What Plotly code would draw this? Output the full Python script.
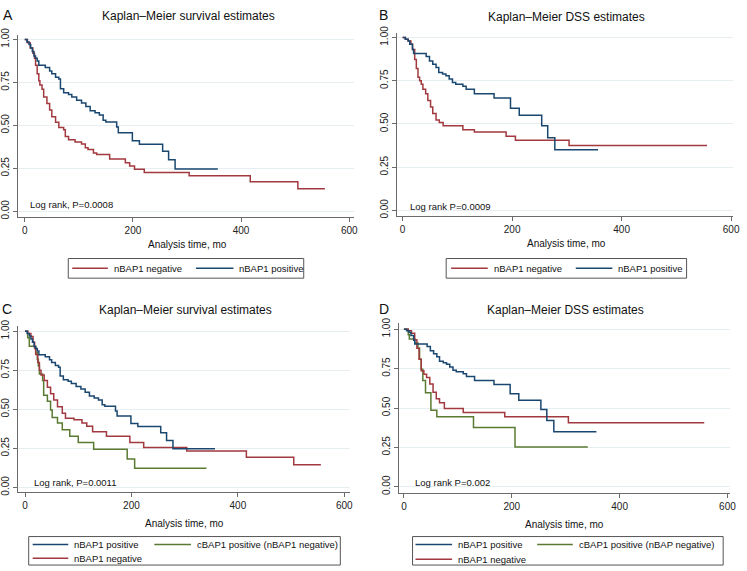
import plotly.graph_objects as go

W, H = 747, 571

# ---------------- data ----------------
# Overall survival, nBAP1 positive (panels A and C)
os_pos_t = [0, 4, 8, 11, 14, 17, 20, 23, 26, 38, 46, 50, 57, 63, 66, 72, 81, 87, 96, 105,
            113, 121, 130, 138, 145, 150, 170, 173, 199, 212, 255, 266, 278, 357]
os_pos_s = [1.00, 0.985, 0.97, 0.95, 0.93, 0.903, 0.89, 0.874, 0.85, 0.836, 0.817, 0.80, 0.78, 0.77,
            0.713, 0.69, 0.68, 0.665, 0.646, 0.63, 0.61, 0.585, 0.573, 0.56, 0.53, 0.52, 0.49, 0.457,
            0.41, 0.39, 0.35, 0.30, 0.247, 0.247]

# Overall survival, nBAP1 negative (panel A)
os_neg_t = [0, 5, 10, 15, 18, 20, 23, 26, 28, 32, 35, 41, 46, 50, 57, 63, 72, 75, 81, 93, 105,
            112, 117, 127, 133, 157, 186, 194, 203, 221, 304, 417, 505, 555]
os_neg_s = [1.0, 0.98, 0.95, 0.92, 0.89, 0.85, 0.80, 0.76, 0.735, 0.71, 0.665, 0.627, 0.59, 0.55,
            0.518, 0.488, 0.474, 0.436, 0.417, 0.404, 0.392, 0.37, 0.36, 0.34, 0.33, 0.305, 0.283,
            0.264, 0.245, 0.226, 0.207, 0.172, 0.132, 0.132]

# DSS, nBAP1 positive (panels B and D)
dss_pos_t = [0, 5, 10, 13, 18, 20, 43, 49, 55, 61, 66, 73, 79, 85, 91, 97, 110, 116, 131, 167,
             197, 213, 254, 265, 278, 357]
dss_pos_s = [1.0, 0.99, 0.98, 0.96, 0.93, 0.907, 0.89, 0.864, 0.845, 0.826, 0.797, 0.788, 0.778,
             0.76, 0.74, 0.73, 0.718, 0.70, 0.674, 0.65, 0.59, 0.55, 0.49, 0.42, 0.35, 0.35]

# DSS, nBAP1 negative (panel B)
dss_neg_t = [0, 5, 10, 15, 18, 22, 25, 28, 31, 34, 37, 42, 46, 51, 55, 61, 67, 74, 110, 131,
             189, 206, 304, 556]
dss_neg_s = [1.0, 0.99, 0.98, 0.96, 0.93, 0.873, 0.82, 0.77, 0.75, 0.73, 0.70, 0.674, 0.636,
             0.598, 0.56, 0.523, 0.508, 0.49, 0.466, 0.453, 0.428, 0.405, 0.375, 0.375]

# Overall survival, nBAP1 negative without cBAP1 positive (panel C)
os_neg2_t = [0, 5, 11, 15, 18, 20, 24, 27, 30, 36, 42, 48, 54, 61, 70, 76, 92, 107, 116, 127,
             153, 197, 223, 304, 416, 505, 556]
os_neg2_s = [1.0, 0.985, 0.967, 0.93, 0.89, 0.851, 0.80, 0.75, 0.72, 0.684, 0.642, 0.60, 0.559,
             0.517, 0.475, 0.443, 0.433, 0.412, 0.391, 0.356, 0.328, 0.287, 0.255, 0.234, 0.193,
             0.146, 0.146]

# Overall survival, cBAP1 positive (panel C)
os_cyt_t = [0, 5, 8, 20, 23, 25, 27, 33, 35, 42, 48, 51, 61, 70, 84, 100, 129, 192, 206, 341]
os_cyt_s = [1.0, 0.958, 0.904, 0.862, 0.82, 0.778, 0.726, 0.684, 0.59, 0.552, 0.496, 0.448,
            0.412, 0.37, 0.328, 0.287, 0.245, 0.182, 0.123, 0.123]

# DSS, nBAP1 negative without cBAP1 positive (panel D)
dss_neg2_t = [0, 8, 14, 20, 24, 28, 32, 37, 42, 48, 54, 60, 66, 75, 110, 187, 305, 557]
dss_neg2_s = [1.0, 0.99, 0.975, 0.933, 0.88, 0.81, 0.736, 0.715, 0.694, 0.653, 0.60, 0.559,
              0.534, 0.497, 0.472, 0.445, 0.407, 0.407]

# DSS, cBAP1 positive (panel D)
dss_cyt_t = [0, 8, 10, 20, 26, 29, 32, 35, 40, 50, 61, 129, 206, 341]
dss_cyt_s = [1.0, 0.965, 0.938, 0.913, 0.88, 0.81, 0.746, 0.674, 0.597, 0.486, 0.445, 0.376,
             0.252, 0.252]

x_ticks = [0, 200, 400, 600]
y_ticks = [0, 0.25, 0.5, 0.75, 1.0]
y_ticktext = ["0.00", "0.25", "0.50", "0.75", "1.00"]

panel_letters = ["A", "B", "C", "D"]
panel_titles = ["Kaplan\u2013Meier survival estimates", "Kaplan\u2013Meier DSS estimates",
                "Kaplan\u2013Meier survival estimates", "Kaplan\u2013Meier DSS estimates"]
logrank_text = ["Log rank, P=0.0008", "Log rank P=0.0009", "Log rank, P=0.0011", "Log rank P=0.002"]
x_title = "Analysis time, mo"

lab_pos = "nBAP1 positive"
lab_neg = "nBAP1 negative"
lab_cyt_c = "cBAP1 positive (nBAP1 negative)"
lab_cyt_d = "cBAP1 positive (nBAP negative)"

NAVY = "#1a476f"
MAROON = "#a2393e"
GREEN = "#5a7a32"
FONT = "Liberation Sans, Arial, sans-serif"

# ---------------- layout geometry (pixels) ----------------
P = [
    dict(dx=(17, 357), dy=(28, 214), x0=24, x600=352, y1=33, y0=208,
         letter=(7, 8), title=(190, 9), xt=(189, 242), lr=(5.5, 0.04)),
    dict(dx=(400, 740), dy=(26, 213), x0=406, x600=738, y1=31, y0=207,
         letter=(387, 8), title=(572, 10), xt=(572, 241), lr=(9, 0.023)),
    dict(dx=(17, 353), dy=(325, 494), x0=24.3, x600=347, y1=330, y0=489,
         letter=(6, 307), title=(186, 308), xt=(185, 526), lr=(14, 0.031)),
    dict(dx=(402, 737), dy=(322, 495), x0=407.3, x600=734.3, y1=328, y0=488.3,
         letter=(387, 307), title=(571, 308), xt=(570, 527), lr=(17, 0.027)),
]


def px(x):
    return x / W


def py(y):
    return 1 - y / H


series = [
    [(os_neg_t, os_neg_s, MAROON, lab_neg), (os_pos_t, os_pos_s, NAVY, lab_pos)],
    [(dss_neg_t, dss_neg_s, MAROON, lab_neg), (dss_pos_t, dss_pos_s, NAVY, lab_pos)],
    [(os_cyt_t, os_cyt_s, GREEN, lab_cyt_c), (os_neg2_t, os_neg2_s, MAROON, lab_neg),
     (os_pos_t, os_pos_s, NAVY, lab_pos)],
    [(dss_cyt_t, dss_cyt_s, GREEN, lab_cyt_d), (dss_neg2_t, dss_neg2_s, MAROON, lab_neg),
     (dss_pos_t, dss_pos_s, NAVY, lab_pos)],
]

fig = go.Figure()
annotations = []
shapes = []

for i, p in enumerate(P):
    k = "" if i == 0 else str(i + 1)
    xs = (p["x600"] - p["x0"]) / 600.0
    ys = (p["y0"] - p["y1"])
    xr = [(p["dx"][0] - p["x0"]) / xs, (p["dx"][1] - p["x0"]) / xs]
    yr = [(p["y0"] - p["dy"][1]) / ys, (p["y0"] - p["dy"][0]) / ys]
    for (t, s, c, name) in series[i]:
        fig.add_trace(go.Scatter(x=t, y=s, mode="lines", line=dict(color=c, width=1.5, shape="hv"),
                                 name=name, showlegend=False, xaxis="x" + k, yaxis="y" + k,
                                 hoverinfo="skip"))
    fig.update_layout(**{
        "xaxis" + k: dict(domain=[px(p["dx"][0]), px(p["dx"][1])], range=xr, anchor="y" + k,
                          tickvals=x_ticks, showgrid=False, zeroline=False, showline=True,
                          linecolor="#6b6b6b", linewidth=1, ticks="outside", ticklen=4,
                          tickcolor="#6b6b6b", tickfont=dict(size=10, color="#222", family=FONT)),
        "yaxis" + k: dict(domain=[py(p["dy"][1]), py(p["dy"][0])], range=yr, anchor="x" + k,
                          tickvals=y_ticks, ticktext=y_ticktext, tickangle=-90,
                          showgrid=True, gridcolor="#e6eef2", gridwidth=1, zeroline=False,
                          showline=True, linecolor="#6b6b6b", linewidth=1, ticks="outside",
                          ticklen=4, tickcolor="#6b6b6b",
                          tickfont=dict(size=10, color="#222", family=FONT)),
    })
    annotations.append(dict(text=panel_letters[i], x=px(p["letter"][0]), y=py(p["letter"][1]),
                            xref="paper", yref="paper", xanchor="center", yanchor="middle",
                            showarrow=False, font=dict(size=14, color="#111", family=FONT)))
    annotations.append(dict(text=panel_titles[i], x=px(p["title"][0]), y=py(p["title"][1]),
                            xref="paper", yref="paper", xanchor="center", yanchor="middle",
                            showarrow=False, font=dict(size=12, color="#111", family=FONT)))
    annotations.append(dict(text=x_title, x=px(p["xt"][0]), y=py(p["xt"][1]),
                            xref="paper", yref="paper", xanchor="center", yanchor="middle",
                            showarrow=False, font=dict(size=10, color="#111", family=FONT)))
    annotations.append(dict(text=logrank_text[i], x=p["lr"][0], y=p["lr"][1],
                            xref="x" + k, yref="y" + k, xanchor="left", yanchor="middle",
                            showarrow=False, font=dict(size=9.5, color="#111", family=FONT)))

# ---------------- legends (drawn boxes) ----------------
legends = [
    dict(box=(68, 256, 306, 276),
         items=[(72, 108, 266, lab_neg, MAROON), (197, 235, 266, lab_pos, NAVY)]),
    dict(box=(450, 256, 693, 276),
         items=[(455, 492, 266, lab_neg, MAROON), (581, 618, 266, lab_pos, NAVY)]),
    dict(box=(28, 539, 343, 568),
         items=[(32, 68, 547, lab_pos, NAVY), (155, 192, 547, lab_cyt_c, GREEN),
                (32, 68, 561, lab_neg, MAROON)]),
    dict(box=(416, 539, 730, 568),
         items=[(419, 456, 547, lab_pos, NAVY), (542, 578, 547, lab_cyt_d, GREEN),
                (419, 456, 562, lab_neg, MAROON)]),
]
for lg in legends:
    x0, y0, x1, y1 = lg["box"]
    shapes.append(dict(type="rect", xref="paper", yref="paper", x0=px(x0), x1=px(x1),
                       y0=py(y1), y1=py(y0), line=dict(color="#555", width=1),
                       fillcolor="white", layer="below"))
    for (a, b, yy, lab, c) in lg["items"]:
        shapes.append(dict(type="line", xref="paper", yref="paper", x0=px(a), x1=px(b),
                           y0=py(yy), y1=py(yy), line=dict(color=c, width=1.5)))
        annotations.append(dict(text=lab, x=px(b + 4), y=py(yy), xref="paper", yref="paper",
                                xanchor="left", yanchor="middle", showarrow=False,
                                font=dict(size=9.5, color="#111", family=FONT)))

fig.update_layout(width=W, height=H, margin=dict(l=0, r=0, t=0, b=0),
                  paper_bgcolor="white", plot_bgcolor="white", showlegend=False,
                  annotations=annotations, shapes=shapes,
                  font=dict(family=FONT, size=10, color="#111"))

fig.write_html("out.html", config={"displayModeBar": False},
               post_script="document.body.style.margin='0';document.body.style.overflow='hidden';")
